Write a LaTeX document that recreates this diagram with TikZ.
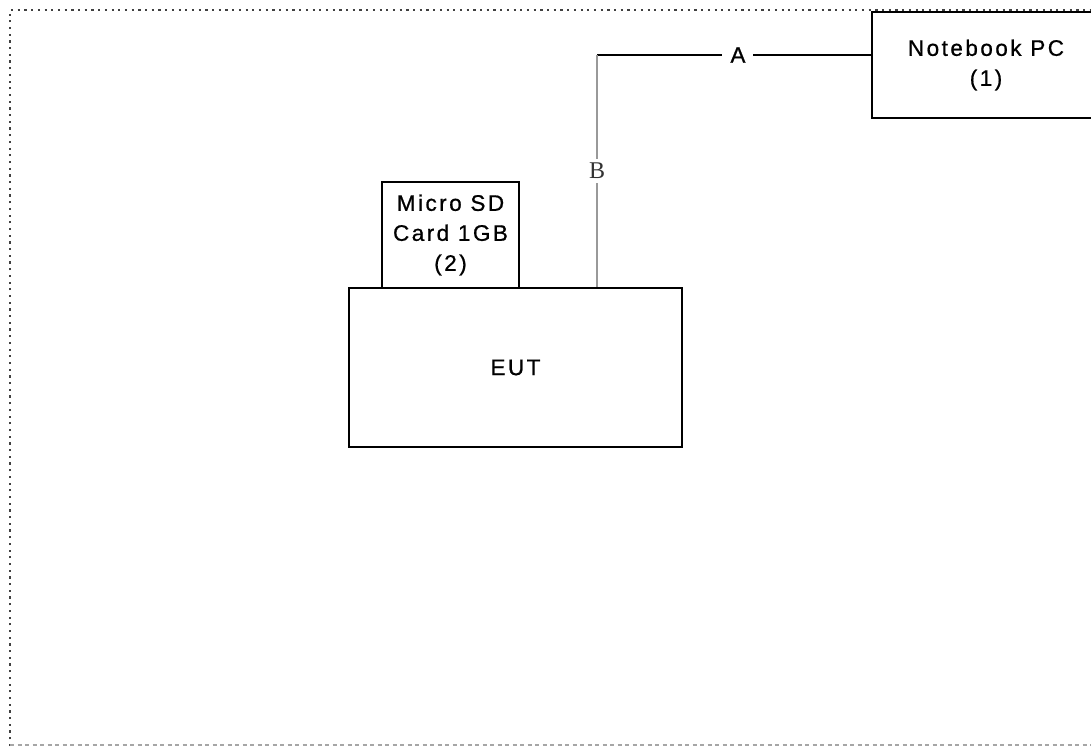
\documentclass[tikz,border=0pt]{standalone}
\usepackage{fontspec}
\newfontfamily\labfont[LetterSpace=11,FakeBold=0.8]{Liberation Sans}
\newfontfamily\serifB{Liberation Serif}
\begin{document}
\begin{tikzpicture}[x=1pt,y=-1pt,
  box/.style={draw=black, line width=2.6pt, fill=white, rectangle, inner sep=0pt, align=center,
    font=\fontsize{22.5}{30}\labfont},
  wire/.style={line width=1.2pt},
  gwire/.style={line width=1.4pt, draw=gray!80},
  lab/.style={fill=white, font=\fontsize{22.5}{24}\labfont, inner xsep=8pt, inner ysep=2pt},
  labB/.style={fill=white, font=\fontsize{24}{26}\serifB, inner xsep=2pt, inner ysep=4pt, text=black!80}]
\useasboundingbox (0,0) rectangle (1091,747);
\clip (0,0) rectangle (1091,747);
\fill[white] (0,0) rectangle (1091,747);
% frame
\draw[line width=2.4pt, draw=black!75, dash pattern=on 2.2pt off 4.5pt] (10,746) -- (10,10) -- (1091,10);
\draw[line width=1.8pt, draw=black!35, dash pattern=on 4pt off 3.5pt] (10,745) -- (1091,745);
% boxes
\node[box, minimum width=228pt, minimum height=106pt] (nb) at (986,65) {Notebook PC\\(1)};
\node[box, minimum width=137pt, minimum height=106pt] (sd) at (450.5,235) {Micro SD\\Card 1GB\\(2)};
\node[box, minimum width=333pt, minimum height=159pt] (eut) at (515.5,367.5) {EUT};
% connectors
\coordinate (bend) at (597,55);
\draw[wire] (bend) -- node[lab, pos=0.515] {A} (nb.west |- bend);
\draw[gwire] (bend) -- node[labB, pos=0.5] {B} (bend |- eut.north);
\end{tikzpicture}
\end{document}
